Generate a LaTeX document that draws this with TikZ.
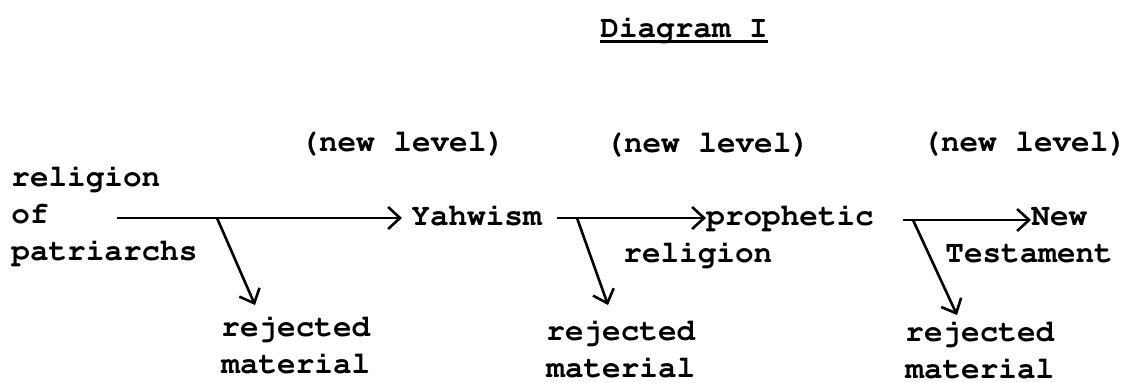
\documentclass[tikz,border=0pt]{standalone}
\usepackage[T1,TU]{fontenc}
\usetikzlibrary{arrows.meta}
\newcommand{\typewriter}{\fontencoding{T1}\fontfamily{pcr}\fontseries{b}\selectfont}

\begin{document}
\begin{tikzpicture}[
    x=0.5pt, y=-0.5pt,
    label/.style={anchor=base west, inner sep=0pt, align=left,
                  font=\typewriter\fontsize{15.5}{18.5}\selectfont},
    arrow/.style={-{Straight Barb[length=6pt, width=11pt]}, line width=1.3pt}
]
    \useasboundingbox (0,0) rectangle (1127,382);

    \node[label] (title) at (600,37) {Diagram I};
    \draw[line width=1.2pt] (title.south west) -- (title.south east);

    \node[label] (level1) at (300,151) {(new level)};
    \node[label] (level2) at (605,152) {(new level)};
    \node[label] (level3) at (922,151) {(new level)};

    % multi-line labels sit on their last line
    \node[label] (patriarchs) at (11,260) {religion\\of\\patriarchs};
    \node[label] (yahwism) at (411,225) {Yahwism};
    \node[label] (prophetic) at (706,225) {prophetic};
    \node[label] (prophetic2) at (623,262) {religion};
    \node[label] (newtest) at (1031,225) {New};
    \node[label] (newtest2) at (945,262) {Testament};

    \node[label] (reject1) at (221,373) {rejected\\material};
    \node[label] (reject2) at (546,377) {rejected\\material};
    \node[label] (reject3) at (905,378) {rejected\\material};

    % where the lines start and split off
    \coordinate (start1) at (117,218);
    \coordinate (start2) at (557,218);
    \coordinate (start3) at (903,220);
    \coordinate (fork1) at (217,218);
    \coordinate (fork2) at (577,218);
    \coordinate (fork3) at (913,220);
    \coordinate (drop1) at (255,305);
    \coordinate (drop2) at (608,305);
    \coordinate (drop3) at (957,315);

    \draw[arrow, shorten >=4.5pt] (start1) -- (start1 -| yahwism.west);
    \draw[arrow] (start2) -- (start2 -| prophetic.west);
    \draw[arrow] (start3) -- (start3 -| newtest.west);

    \draw[arrow] (fork1) -- (drop1);
    \draw[arrow] (fork2) -- (drop2);
    \draw[arrow] (fork3) -- (drop3);
\end{tikzpicture}
\end{document}
